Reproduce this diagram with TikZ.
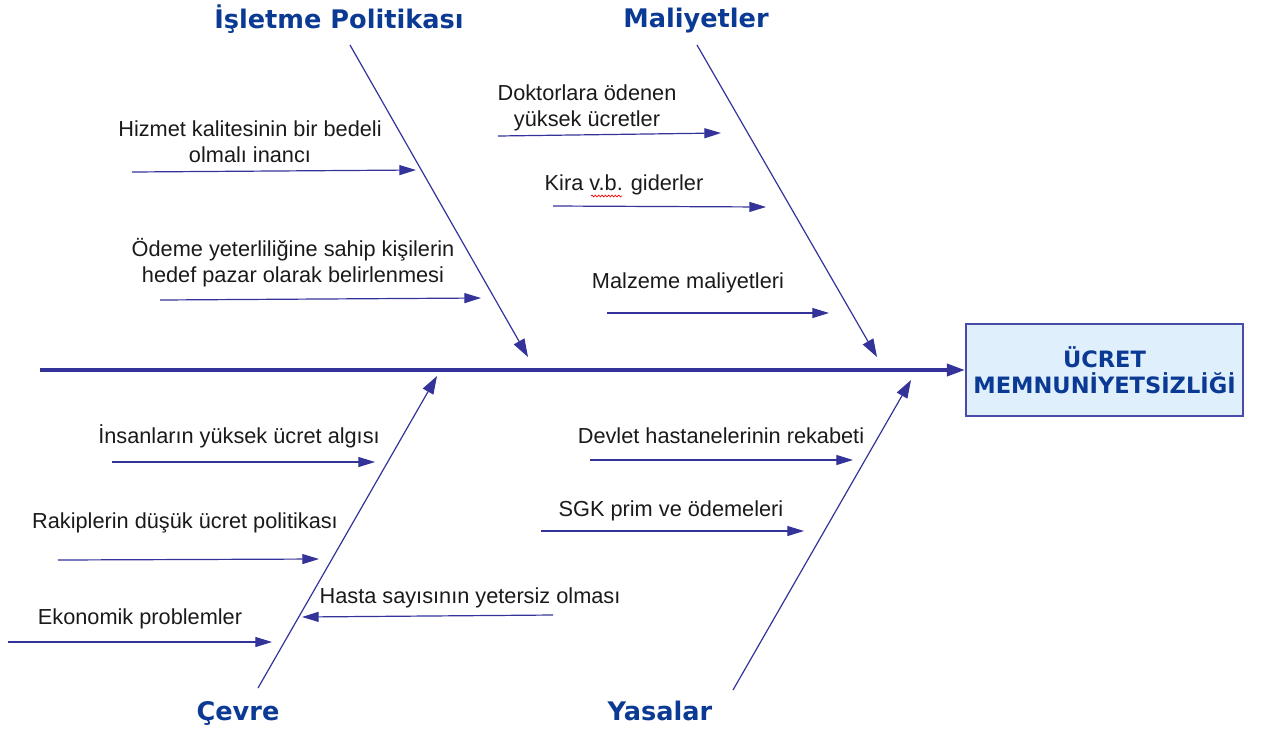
\documentclass[tikz,border=0pt]{standalone}
\usepackage{fontspec}
\setmainfont{Liberation Sans}
\newfontfamily\headfont{DejaVu Sans}
\usetikzlibrary{arrows.meta,decorations.pathmorphing}

\definecolor{boneline}{HTML}{33339A}
\definecolor{headblue}{HTML}{0B3A94}
\definecolor{boxfill}{HTML}{DFF0FC}
\definecolor{boxedge}{HTML}{4A4AA8}
\definecolor{labelgray}{HTML}{1A1A1A}

\tikzset{
  spine/.style={draw=boneline, line width=2.6pt, -{Triangle[length=13.5pt,width=9pt]}},
  rib/.style={draw=boneline, line width=0.9pt, -{Triangle[length=13.5pt,width=9pt]}},
  twig/.style={draw=boneline, line width=0.9pt, -{Triangle[length=12.5pt,width=7.5pt]}},
  heading/.style={font=\headfont\bfseries\fontsize{19.2}{23}\selectfont, text=headblue, inner sep=0pt},
  cause/.style={font=\fontsize{16.3}{19.6}\selectfont, text=labelgray, align=center, inner sep=0pt},
  effect/.style={draw=boxedge, line width=1.6pt, fill=boxfill, minimum width=277*0.75pt,
    minimum height=92*0.75pt, align=center, text=headblue,
    font=\headfont\bfseries\fontsize{16.9}{19.8}\selectfont}
}

\begin{document}
\begin{tikzpicture}[x=0.75pt,y=-0.75pt]
\useasboundingbox (0,0) rectangle (1269,733);

% effect box and spine
\node[effect] (effect) at (1104.5,370) {ÜCRET\\MEMNUNİYETSİZLİĞİ};
\coordinate (spinestart) at (40,370);
\draw[spine] (spinestart) -- (effect.west);

% main bones
\coordinate (polA) at (350,45);   \coordinate (polB) at (528,357);
\coordinate (malA) at (697,45);   \coordinate (malB) at (877,357);
\coordinate (cevA) at (258,688);  \coordinate (cevB) at (437,376);
\coordinate (yasA) at (733,690);  \coordinate (yasB) at (911,380);
\draw[rib] (polA) -- (polB);
\draw[rib] (malA) -- (malB);
\draw[rib] (cevA) -- (cevB);
\draw[rib] (yasA) -- (yasB);

% category headings
\node[heading] (hpol) at (339,19) {İşletme Politikası};
\node[heading] (hmal) at (696,21) {Maliyetler};
\node[heading] (hcev) at (238,713) {Çevre};
\node[heading] (hyas) at (660,711) {Yasalar};

% causes: İşletme Politikası
\node[cause] (c1) at (250,142) {Hizmet kalitesinin bir bedeli\\olmalı inancı};
\coordinate (c1a) at (132,172); \coordinate (c1b) at (416,170);
\draw[twig] (c1a) -- (c1b);
\node[cause] (c2) at (293,263) {Ödeme yeterliliğine sahip kişilerin\\hedef pazar olarak belirlenmesi};
\coordinate (c2a) at (160,300); \coordinate (c2b) at (481,298);
\draw[twig] (c2a) -- (c2b);

% causes: Maliyetler
\node[cause] (c3) at (587,108) {Doktorlara ödenen\\yüksek ücretler};
\coordinate (c3a) at (498,136); \coordinate (c3b) at (721,133);
\draw[twig] (c3a) -- (c3b);
\node[cause] (c4) at (624,185) {Kira v.b. giderler};
\coordinate (c4a) at (553,206); \coordinate (c4b) at (766,207);
\draw[twig] (c4a) -- (c4b);
% spell-check squiggle under the abbreviation
\coordinate (sq1) at (591,196); \coordinate (sq2) at (622,196);
\draw[red, line width=0.5pt, decorate, decoration={snake, amplitude=0.7pt, segment length=2.5pt}] (sq1) -- (sq2);
\node[cause] (c5) at (688,283) {Malzeme maliyetleri};
\coordinate (c5a) at (607,313); \coordinate (c5b) at (829,313);
\draw[twig] (c5a) -- (c5b);

% causes: Çevre
\node[cause] (c6) at (239,436) {İnsanların yüksek ücret algısı};
\coordinate (c6a) at (112,462); \coordinate (c6b) at (375,462);
\draw[twig] (c6a) -- (c6b);
\node[cause] (c7) at (185,523) {Rakiplerin düşük ücret politikası};
\coordinate (c7a) at (58,560); \coordinate (c7b) at (319,559);
\draw[twig] (c7a) -- (c7b);
\node[cause] (c8) at (140,619) {Ekonomik problemler};
\coordinate (c8a) at (8,642); \coordinate (c8b) at (272,642);
\draw[twig] (c8a) -- (c8b);
\node[cause] (c9) at (470,598) {Hasta sayısının yetersiz olması};
\coordinate (c9a) at (553,615); \coordinate (c9b) at (302,617);
\draw[twig] (c9a) -- (c9b);

% causes: Yasalar
\node[cause] (c10) at (721,436) {Devlet hastanelerinin rekabeti};
\coordinate (c10a) at (590,460); \coordinate (c10b) at (853,460);
\draw[twig] (c10a) -- (c10b);
\node[cause] (c11) at (671,511) {SGK prim ve ödemeleri};
\coordinate (c11a) at (541,531); \coordinate (c11b) at (804,531);
\draw[twig] (c11a) -- (c11b);
\end{tikzpicture}
\end{document}
